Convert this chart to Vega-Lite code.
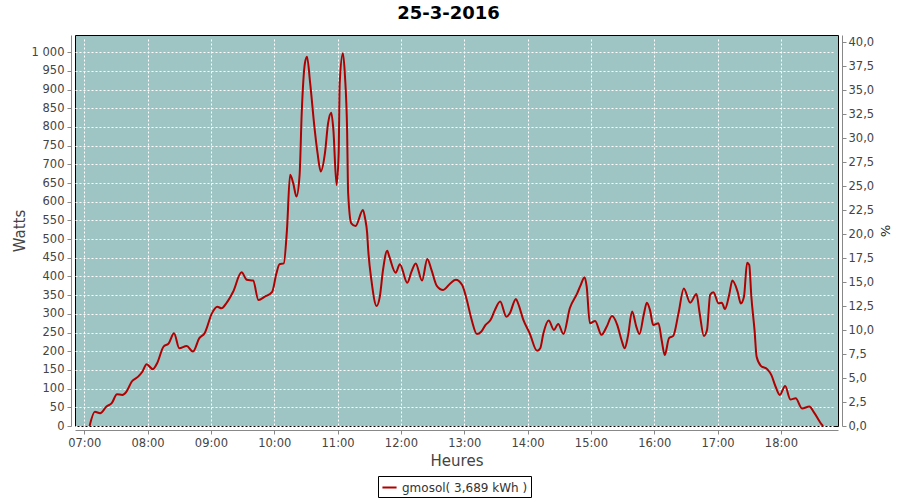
{
  "$schema": "https://vega.github.io/schema/vega-lite/v6.json",
  "width": 763,
  "height": 391,
  "autosize": {"type": "none"},
  "padding": {"left": 75, "top": 35, "right": 62, "bottom": 74},
  "background": "white",
  "title": {"text": "25-3-2016", "font": "DejaVu Sans", "fontSize": 18, "fontWeight": "bold", "color": "#000000", "offset": 12, "dx": -8},
  "config": {
    "locale": {"number": {"decimal": ",", "thousands": " ", "grouping": [3], "currency": ["", " €"]}},
    "view": {"fill": "#9FC4C4", "stroke": "#000000", "strokeWidth": 1},
    "axis": {
      "labelFont": "DejaVu Sans", "labelFontSize": 11.5, "labelColor": "#444444",
      "titleFont": "DejaVu Sans", "titleFontSize": 14, "titleFontWeight": "normal", "titleColor": "#444444",
      "domainColor": "#888888", "tickColor": "#888888", "tickSize": 4, "offset": 4,
      "gridColor": "#FFFFFF", "gridDash": [2, 2], "gridWidth": 1, "gridOpacity": 1
    }
  },
  "data": {"values": [
        {"t": "2016-03-25T07:05:00Z", "w": 0},
        {"t": "2016-03-25T07:10:00Z", "w": 38},
        {"t": "2016-03-25T07:15:00Z", "w": 34},
        {"t": "2016-03-25T07:21:00Z", "w": 52},
        {"t": "2016-03-25T07:26:00Z", "w": 61},
        {"t": "2016-03-25T07:31:00Z", "w": 85},
        {"t": "2016-03-25T07:36:00Z", "w": 83},
        {"t": "2016-03-25T07:40:00Z", "w": 92},
        {"t": "2016-03-25T07:45:00Z", "w": 119},
        {"t": "2016-03-25T07:51:00Z", "w": 132},
        {"t": "2016-03-25T07:55:00Z", "w": 145},
        {"t": "2016-03-25T07:59:00Z", "w": 165},
        {"t": "2016-03-25T08:05:00Z", "w": 152},
        {"t": "2016-03-25T08:09:00Z", "w": 168},
        {"t": "2016-03-25T08:15:00Z", "w": 212},
        {"t": "2016-03-25T08:20:00Z", "w": 221},
        {"t": "2016-03-25T08:25:00Z", "w": 248},
        {"t": "2016-03-25T08:30:00Z", "w": 208},
        {"t": "2016-03-25T08:37:00Z", "w": 214},
        {"t": "2016-03-25T08:43:00Z", "w": 199},
        {"t": "2016-03-25T08:49:00Z", "w": 235},
        {"t": "2016-03-25T08:54:00Z", "w": 248},
        {"t": "2016-03-25T09:01:00Z", "w": 302},
        {"t": "2016-03-25T09:06:00Z", "w": 319},
        {"t": "2016-03-25T09:10:00Z", "w": 315},
        {"t": "2016-03-25T09:15:00Z", "w": 330},
        {"t": "2016-03-25T09:21:00Z", "w": 359},
        {"t": "2016-03-25T09:29:00Z", "w": 411},
        {"t": "2016-03-25T09:34:00Z", "w": 391},
        {"t": "2016-03-25T09:40:00Z", "w": 389},
        {"t": "2016-03-25T09:45:00Z", "w": 337},
        {"t": "2016-03-25T09:51:00Z", "w": 346},
        {"t": "2016-03-25T09:58:00Z", "w": 359},
        {"t": "2016-03-25T10:02:00Z", "w": 408},
        {"t": "2016-03-25T10:05:00Z", "w": 433},
        {"t": "2016-03-25T10:09:00Z", "w": 435},
        {"t": "2016-03-25T10:12:00Z", "w": 524},
        {"t": "2016-03-25T10:15:00Z", "w": 672},
        {"t": "2016-03-25T10:18:00Z", "w": 649},
        {"t": "2016-03-25T10:21:00Z", "w": 614},
        {"t": "2016-03-25T10:24:00Z", "w": 672},
        {"t": "2016-03-25T10:26:00Z", "w": 837},
        {"t": "2016-03-25T10:29:00Z", "w": 970},
        {"t": "2016-03-25T10:31:00Z", "w": 988},
        {"t": "2016-03-25T10:34:00Z", "w": 917},
        {"t": "2016-03-25T10:38:00Z", "w": 801},
        {"t": "2016-03-25T10:41:00Z", "w": 730},
        {"t": "2016-03-25T10:44:00Z", "w": 681},
        {"t": "2016-03-25T10:48:00Z", "w": 730},
        {"t": "2016-03-25T10:51:00Z", "w": 810},
        {"t": "2016-03-25T10:54:00Z", "w": 838},
        {"t": "2016-03-25T10:56:00Z", "w": 792},
        {"t": "2016-03-25T10:59:00Z", "w": 645},
        {"t": "2016-03-25T11:01:00Z", "w": 730},
        {"t": "2016-03-25T11:02:00Z", "w": 917},
        {"t": "2016-03-25T11:05:00Z", "w": 997},
        {"t": "2016-03-25T11:07:00Z", "w": 935},
        {"t": "2016-03-25T11:09:00Z", "w": 792},
        {"t": "2016-03-25T11:10:00Z", "w": 623},
        {"t": "2016-03-25T11:13:00Z", "w": 542},
        {"t": "2016-03-25T11:17:00Z", "w": 535},
        {"t": "2016-03-25T11:24:00Z", "w": 578},
        {"t": "2016-03-25T11:26:00Z", "w": 556},
        {"t": "2016-03-25T11:28:00Z", "w": 516},
        {"t": "2016-03-25T11:29:00Z", "w": 471},
        {"t": "2016-03-25T11:32:00Z", "w": 391},
        {"t": "2016-03-25T11:37:00Z", "w": 321},
        {"t": "2016-03-25T11:40:00Z", "w": 346},
        {"t": "2016-03-25T11:43:00Z", "w": 417},
        {"t": "2016-03-25T11:47:00Z", "w": 469},
        {"t": "2016-03-25T11:49:00Z", "w": 453},
        {"t": "2016-03-25T11:55:00Z", "w": 410},
        {"t": "2016-03-25T11:59:00Z", "w": 433},
        {"t": "2016-03-25T12:06:00Z", "w": 383},
        {"t": "2016-03-25T12:10:00Z", "w": 413},
        {"t": "2016-03-25T12:14:00Z", "w": 435},
        {"t": "2016-03-25T12:20:00Z", "w": 389},
        {"t": "2016-03-25T12:25:00Z", "w": 447},
        {"t": "2016-03-25T12:29:00Z", "w": 417},
        {"t": "2016-03-25T12:34:00Z", "w": 375},
        {"t": "2016-03-25T12:40:00Z", "w": 364},
        {"t": "2016-03-25T12:47:00Z", "w": 382},
        {"t": "2016-03-25T12:52:00Z", "w": 391},
        {"t": "2016-03-25T12:58:00Z", "w": 377},
        {"t": "2016-03-25T13:02:00Z", "w": 342},
        {"t": "2016-03-25T13:07:00Z", "w": 284},
        {"t": "2016-03-25T13:12:00Z", "w": 246},
        {"t": "2016-03-25T13:16:00Z", "w": 252},
        {"t": "2016-03-25T13:20:00Z", "w": 270},
        {"t": "2016-03-25T13:25:00Z", "w": 284},
        {"t": "2016-03-25T13:29:00Z", "w": 310},
        {"t": "2016-03-25T13:34:00Z", "w": 333},
        {"t": "2016-03-25T13:40:00Z", "w": 292},
        {"t": "2016-03-25T13:43:00Z", "w": 301},
        {"t": "2016-03-25T13:49:00Z", "w": 340},
        {"t": "2016-03-25T13:51:00Z", "w": 328},
        {"t": "2016-03-25T13:56:00Z", "w": 284},
        {"t": "2016-03-25T14:02:00Z", "w": 248},
        {"t": "2016-03-25T14:09:00Z", "w": 201},
        {"t": "2016-03-25T14:12:00Z", "w": 208},
        {"t": "2016-03-25T14:15:00Z", "w": 248},
        {"t": "2016-03-25T14:20:00Z", "w": 282},
        {"t": "2016-03-25T14:25:00Z", "w": 257},
        {"t": "2016-03-25T14:29:00Z", "w": 273},
        {"t": "2016-03-25T14:34:00Z", "w": 246},
        {"t": "2016-03-25T14:40:00Z", "w": 315},
        {"t": "2016-03-25T14:47:00Z", "w": 355},
        {"t": "2016-03-25T14:50:00Z", "w": 375},
        {"t": "2016-03-25T14:54:00Z", "w": 398},
        {"t": "2016-03-25T14:56:00Z", "w": 373},
        {"t": "2016-03-25T14:59:00Z", "w": 275},
        {"t": "2016-03-25T15:04:00Z", "w": 281},
        {"t": "2016-03-25T15:10:00Z", "w": 244},
        {"t": "2016-03-25T15:15:00Z", "w": 266},
        {"t": "2016-03-25T15:20:00Z", "w": 294},
        {"t": "2016-03-25T15:25:00Z", "w": 270},
        {"t": "2016-03-25T15:29:00Z", "w": 230},
        {"t": "2016-03-25T15:32:00Z", "w": 208},
        {"t": "2016-03-25T15:35:00Z", "w": 239},
        {"t": "2016-03-25T15:39:00Z", "w": 306},
        {"t": "2016-03-25T15:43:00Z", "w": 266},
        {"t": "2016-03-25T15:46:00Z", "w": 246},
        {"t": "2016-03-25T15:50:00Z", "w": 297},
        {"t": "2016-03-25T15:53:00Z", "w": 330},
        {"t": "2016-03-25T15:56:00Z", "w": 310},
        {"t": "2016-03-25T15:59:00Z", "w": 270},
        {"t": "2016-03-25T16:04:00Z", "w": 275},
        {"t": "2016-03-25T16:07:00Z", "w": 230},
        {"t": "2016-03-25T16:10:00Z", "w": 190},
        {"t": "2016-03-25T16:14:00Z", "w": 235},
        {"t": "2016-03-25T16:18:00Z", "w": 241},
        {"t": "2016-03-25T16:23:00Z", "w": 302},
        {"t": "2016-03-25T16:28:00Z", "w": 368},
        {"t": "2016-03-25T16:34:00Z", "w": 330},
        {"t": "2016-03-25T16:40:00Z", "w": 353},
        {"t": "2016-03-25T16:43:00Z", "w": 302},
        {"t": "2016-03-25T16:47:00Z", "w": 241},
        {"t": "2016-03-25T16:50:00Z", "w": 257},
        {"t": "2016-03-25T16:53:00Z", "w": 351},
        {"t": "2016-03-25T16:56:00Z", "w": 358},
        {"t": "2016-03-25T17:01:00Z", "w": 328},
        {"t": "2016-03-25T17:04:00Z", "w": 330},
        {"t": "2016-03-25T17:07:00Z", "w": 313},
        {"t": "2016-03-25T17:11:00Z", "w": 351},
        {"t": "2016-03-25T17:14:00Z", "w": 389},
        {"t": "2016-03-25T17:19:00Z", "w": 359},
        {"t": "2016-03-25T17:22:00Z", "w": 328},
        {"t": "2016-03-25T17:25:00Z", "w": 346},
        {"t": "2016-03-25T17:28:00Z", "w": 437},
        {"t": "2016-03-25T17:30:00Z", "w": 431},
        {"t": "2016-03-25T17:32:00Z", "w": 346},
        {"t": "2016-03-25T17:35:00Z", "w": 257},
        {"t": "2016-03-25T17:37:00Z", "w": 185},
        {"t": "2016-03-25T17:41:00Z", "w": 161},
        {"t": "2016-03-25T17:47:00Z", "w": 152},
        {"t": "2016-03-25T17:51:00Z", "w": 136},
        {"t": "2016-03-25T17:55:00Z", "w": 105},
        {"t": "2016-03-25T17:59:00Z", "w": 83},
        {"t": "2016-03-25T18:04:00Z", "w": 107},
        {"t": "2016-03-25T18:09:00Z", "w": 71},
        {"t": "2016-03-25T18:14:00Z", "w": 74},
        {"t": "2016-03-25T18:20:00Z", "w": 47},
        {"t": "2016-03-25T18:27:00Z", "w": 52},
        {"t": "2016-03-25T18:31:00Z", "w": 38},
        {"t": "2016-03-25T18:39:00Z", "w": 3},
        {"t": "2016-03-25T18:40:00Z", "w": 0}
  ]},
  "encoding": {
    "x": {
      "field": "t", "type": "temporal",
      "scale": {"type": "utc", "domain": [1458888672000, 1458932046000]},
      "axis": {"title": "Heures", "format": "%H:%M", "tickCount": 12, "labelPadding": 3, "titlePadding": 5, "titleFontSize": 15, "grid": true, "labelFlush": false}
    }
  },
  "layer": [
    {
      "mark": {"type": "line", "interpolate": "monotone", "strokeWidth": 2},
      "encoding": {
        "y": {
          "field": "w", "type": "quantitative",
          "scale": {"domain": [0, 1046], "nice": false, "zero": true},
          "axis": {
            "title": "Watts", "orient": "left", "grid": true, "format": ",d", "titleFontSize": 15,
            "values": [0, 50, 100, 150, 200, 250, 300, 350, 400, 450, 500, 550, 600, 650, 700, 750, 800, 850, 900, 950, 1000],
            "labelPadding": 3, "titlePadding": 4
          }
        },
        "color": {
          "datum": "gmosol( 3,689 kWh )",
          "type": "nominal",
          "scale": {"range": ["#B00000"]},
          "legend": {
            "title": null, "orient": "none", "legendX": 303, "legendY": 441,
            "symbolType": "stroke", "symbolStrokeWidth": 2, "symbolSize": 200,
            "labelFont": "DejaVu Sans", "labelFontSize": 12, "labelColor": "#333333",
            "strokeColor": "#000000", "padding": 3, "fillColor": "#FFFFFF"
          }
        }
      }
    },
    {
      "mark": {"type": "line", "opacity": 0, "strokeOpacity": 0, "clip": true},
      "encoding": {
        "y": {
          "field": "w", "type": "quantitative",
          "scale": {"domain": [0, 40.77], "nice": false, "zero": true},
          "axis": {
            "title": "%", "orient": "right", "grid": false, "format": ".1f",
            "titleFontSize": 13, "titleColor": "#222222",
            "values": [0, 2.5, 5, 7.5, 10, 12.5, 15, 17.5, 20, 22.5, 25, 27.5, 30, 32.5, 35, 37.5, 40],
            "labelPadding": 2, "titlePadding": 4
          }
        }
      }
    }
  ],
  "resolve": {"scale": {"y": "independent"}, "axis": {"y": "independent"}}
}
